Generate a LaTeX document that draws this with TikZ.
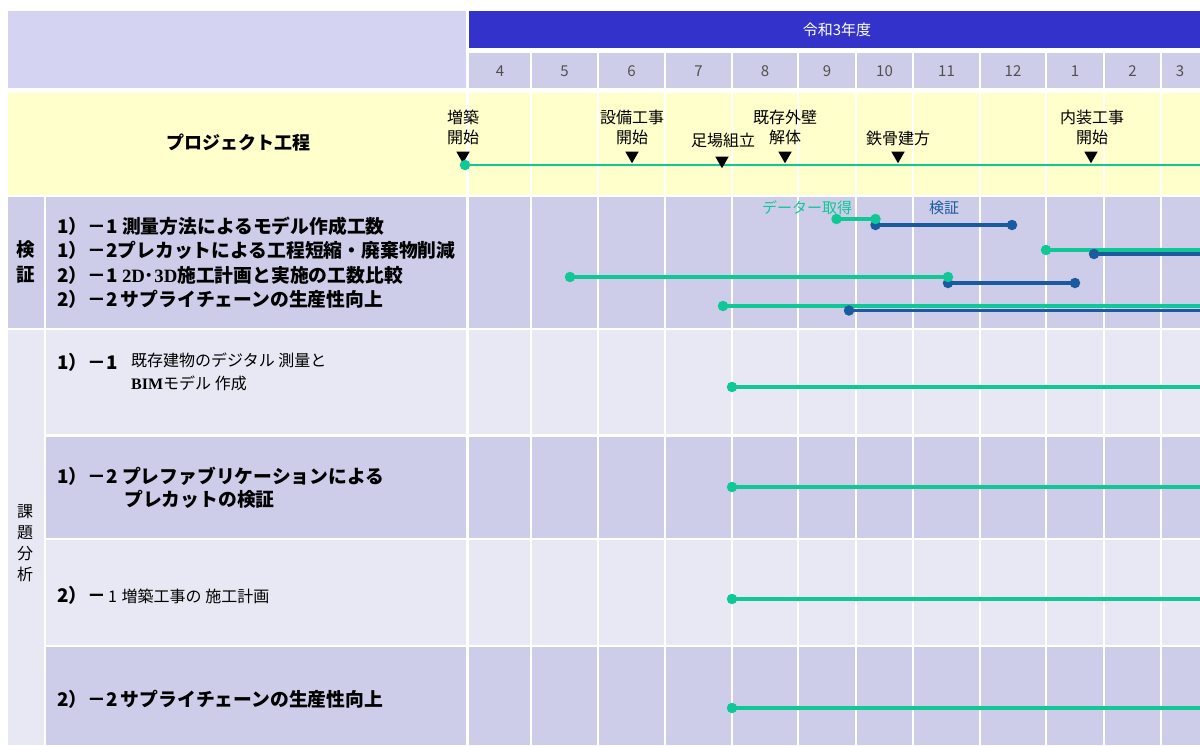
\documentclass[tikz,border=0pt]{standalone}
\usepackage{fontspec}
\setmainfont{Noto Sans CJK JP}
\newfontfamily\bimfont{Liberation Serif}
\usetikzlibrary{shapes.geometric}
\definecolor{hdr}{HTML}{D4D4F2}
\definecolor{band}{HTML}{3333CC}
\definecolor{cellD}{HTML}{CDCDEA}
\definecolor{cellL}{HTML}{E8E8F5}
\definecolor{yel}{HTML}{FFFFCC}
\definecolor{grn}{HTML}{10C896}
\definecolor{dblue}{HTML}{1A5A9E}
\definecolor{mgray}{HTML}{505050}
\begin{document}
\begin{tikzpicture}[x=1pt,y=-1pt,
  gline/.style={grn, line width=3.2pt},
  bline/.style={dblue, line width=3.2pt},
  gdot/.style={circle, fill=grn, inner sep=0pt, minimum size=10.5pt},
  bdot/.style={circle, fill=dblue, inner sep=0pt, minimum size=10.5pt},
  mtri/.style={regular polygon, regular polygon sides=3, shape border rotate=180, fill=black, inner sep=0pt, minimum size=15.5pt},
  gapline/.style={white, line width=2.6pt},
  mlabel/.style={font=\fontsize{16}{20}\selectfont, align=center, inner sep=0pt},
  month/.style={font=\fontsize{15}{18}\selectfont, text=mgray, inner sep=0pt},
  boldtxt/.style={font=\bfseries\fontsize{18.8}{24.5}\selectfont, align=left, inner sep=0pt, anchor=west},
  plain/.style={font=\fontsize{16}{23}\selectfont, align=left, inner sep=0pt, anchor=west},
]
\useasboundingbox (0,0) rectangle (1200,745);
\fill[white] (0,0) rectangle (1200,745);
% header
\fill[hdr] (8,11) rectangle (466,88);
\fill[band] (469,11) rectangle (1200,48);
\fill[cellD] (469,53) rectangle (1200,88);
% project row
\fill[yel] (8,93) rectangle (1200,195);
% kensho row
\fill[cellD] (8,197) rectangle (1200,328);
% kadai bunseki column and rows
\fill[cellL] (8,330) rectangle (44,745);
\fill[cellL] (46,330) rectangle (1200,434);
\fill[cellD] (46,437) rectangle (1200,538);
\fill[cellL] (46,540) rectangle (1200,645);
\fill[cellD] (46,647) rectangle (1200,745);
% vertical gaps
\foreach \x in {531,598,665,732,798,856,913,980,1046,1104,1161}
  \draw[gapline] (\x,53) -- (\x,745);
\draw[gapline] (467.5,11) -- (467.5,745);
\draw[white, line width=2pt] (45,197) -- (45,745);

% header texts
\node[font=\fontsize{15}{18}\selectfont, text=white, inner sep=0pt] (nendo) at (837,30) {令和3年度};
\foreach \m/\x [count=\i] in {4/500,5/564.5,6/631.5,7/698.5,8/765,9/827,10/884.5,11/946.5,12/1013,1/1075,2/1132.5,3/1180}
  \node[month] (m\i) at (\x,71) {\m};

% project row
\node[font=\bfseries\fontsize{18}{22}\selectfont, inner sep=0pt] (proj) at (238,143) {プロジェクト工程};
\node[mlabel] (ms1) at (463,127) {増築\\開始};
\node[mlabel] (ms2) at (632,127) {設備工事\\開始};
\node[mlabel] (ms3) at (723,140) {足場組立};
\node[mlabel] (ms4) at (785,127) {既存外壁\\解体};
\node[mlabel] (ms5) at (898,138) {鉄骨建方};
\node[mlabel] (ms6) at (1092,127) {内装工事\\開始};
\coordinate (ps) at (465,165);
\coordinate (pe) at (1200,165);
\draw[grn, line width=2.8pt] (ps) -- (pe);
\node[mtri] (t1) at (463,155.5) {};
\node[mtri] (t2) at (632,155.5) {};
\node[mtri] (t3) at (722,160.5) {};
\node[mtri] (t4) at (785,155.5) {};
\node[mtri] (t5) at (898,155.5) {};
\node[mtri] (t6) at (1091,155.5) {};
\node[gdot] (psd) at (ps) {};

% kensho row texts
\node[font=\bfseries\fontsize{18.5}{25}\selectfont, align=center, inner sep=0pt] (kensho) at (26,262) {検\\証};
\node[boldtxt] (klist) at (57,262.5) {1）－1 測量方法によるモデル作成工数\\1）－2プレカットによる工程短縮・廃棄物削減\\2）－1 {\bimfont\bfseries 2D}･{\bimfont\bfseries 3D}施工計画と実施の工数比較\\2）－2\,サプライチェーンの生産性向上};

% kadai bunseki texts
\node[font=\fontsize{16}{21}\selectfont, align=center, inner sep=0pt] (kadai) at (25,543) {課\\題\\分\\析};
\node[boldtxt] (r1a) at (57,362) {1）－1};
\node[plain, anchor=north west] (r1b) at (131,353) {既存建物のデジタル 測量と\\{\bimfont\bfseries BIM}モデル 作成};
\node[boldtxt] (r2a) at (57,476) {1）－2 プレファブリケーションによる};
\node[boldtxt] (r2b) at (124,499) {プレカットの検証};
\node[boldtxt] (r3) at (57,595) {2）－\hspace{2pt}\fontsize{16}{18}\selectfont\mdseries 1 \hspace{1pt}増築工事の 施工計画};
\node[boldtxt] (r4) at (57,699) {2）－2\,サプライチェーンの生産性向上};

% gantt labels
\node[font=\fontsize{15}{18}\selectfont, text=grn, inner sep=0pt] (lbl1) at (807,208) {データー取得};
\node[font=\fontsize{15}{18}\selectfont, text=dblue, inner sep=0pt] (lbl2) at (944,208) {検証};

% gantt coordinates
\coordinate (a1) at (836.5,219); \coordinate (a2) at (875.5,219);
\coordinate (b1) at (875.5,225); \coordinate (b2) at (1012,225);
\coordinate (c1) at (1046,250);  \coordinate (c2) at (1200,250);
\coordinate (d1) at (1094,254);  \coordinate (d2) at (1200,254);
\coordinate (e1) at (570,277);   \coordinate (e2) at (948,277);
\coordinate (f1) at (948,283);   \coordinate (f2) at (1075,283);
\coordinate (g1) at (723,306);   \coordinate (g2) at (1200,306);
\coordinate (h1) at (849,310.5); \coordinate (h2) at (1200,310.5);
\coordinate (k1) at (732,387);   \coordinate (k2) at (1200,387);
\coordinate (l1) at (732,487);   \coordinate (l2) at (1200,487);
\coordinate (n1) at (732,599);   \coordinate (n2) at (1200,599);
\coordinate (o1) at (732,708);   \coordinate (o2) at (1200,708);

\draw[gline] (a1) -- (a2);
\draw[gline] (c1) -- (c2);
\draw[gline] (e1) -- (e2);
\draw[gline] (g1) -- (g2);
\draw[gline] (k1) -- (k2);
\draw[gline] (l1) -- (l2);
\draw[gline] (n1) -- (n2);
\draw[gline] (o1) -- (o2);
\draw[bline] (b1) -- (b2);
\draw[bline] (d1) -- (d2);
\draw[bline] (f1) -- (f2);
\draw[bline] (h1) -- (h2);

\node[bdot] (db1) at (b1) {};
\node[bdot] (db2) at (b2) {};
\node[bdot] (dd1) at (d1) {};
\node[bdot] (df1) at (f1) {};
\node[bdot] (df2) at (f2) {};
\node[bdot] (dh1) at (h1) {};
\node[gdot] (da1) at (a1) {};
\node[gdot] (da2) at (a2) {};
\node[gdot] (dc1) at (c1) {};
\node[gdot] (de1) at (e1) {};
\node[gdot] (de2) at (e2) {};
\node[gdot] (dg1) at (g1) {};
\node[gdot] (dk1) at (k1) {};
\node[gdot] (dl1) at (l1) {};
\node[gdot] (dn1) at (n1) {};
\node[gdot] (do1) at (o1) {};
\end{tikzpicture}
\end{document}
